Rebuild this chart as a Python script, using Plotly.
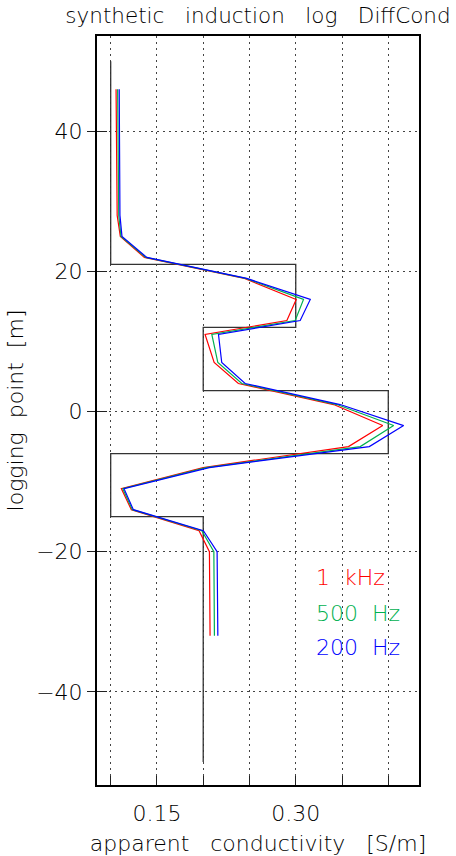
import plotly.graph_objects as go

# ---- data ----
layer_top = [50, 21, 12, 3, -6, -15]
layer_bottom = [21, 12, 3, -6, -15, -50]
layer_sigma = [0.10, 0.30, 0.20, 0.40, 0.10, 0.20]

depth = [46, 28, 25, 22, 19, 16, 13, 11, 7, 4, 1, -2, -5, -8, -11, -14, -17, -20, -32]
sigma_1khz = [0.1058, 0.1070, 0.1104, 0.1364, 0.2446, 0.3005, 0.2904, 0.2020, 0.2118, 0.2380,
              0.3410, 0.3940, 0.3570, 0.2000, 0.1115, 0.1223, 0.1955, 0.2067, 0.2074]
sigma_500hz = [0.1075, 0.1087, 0.1111, 0.1379, 0.2458, 0.3084, 0.2994, 0.2093, 0.2158, 0.2417,
               0.3445, 0.4058, 0.3697, 0.2030, 0.1130, 0.1234, 0.1985, 0.2115, 0.2121]
sigma_200hz = [0.1092, 0.1100, 0.1122, 0.1390, 0.2470, 0.3157, 0.3048, 0.2165, 0.2200, 0.2453,
               0.3480, 0.4166, 0.3795, 0.2065, 0.1144, 0.1245, 0.2002, 0.2150, 0.2158]

series_names = ["1\u00a0 kHz", "500\u00a0 Hz", "200\u00a0 Hz"]
series_colors = ["#ff0000", "#00b050", "#0000ff"]

x_tickvals = [0.10, 0.15, 0.20, 0.25, 0.30, 0.35, 0.40]
x_ticktext = ["", "0.15", "", "", "0.30", "", ""]
y_tickvals = [40, 20, 0, -20, -40]

# ---- figure ----
FONT = "DejaVu Sans"
TXT = "#000000"
W = 300
SP = "\u00a0\u00a0 "
SP2 = "\u00a0 "

model_x, model_y = [], []
for s, t, b in zip(layer_sigma, layer_top, layer_bottom):
    model_x += [s, s]
    model_y += [t, b]

fig = go.Figure()
fig.add_trace(go.Scatter(x=model_x, y=model_y, mode="lines",
                         line=dict(color="#333333", width=1.3), showlegend=False, hoverinfo="skip"))
for vals, col in zip([sigma_1khz, sigma_500hz, sigma_200hz], series_colors):
    fig.add_trace(go.Scatter(x=vals, y=depth, mode="lines",
                             line=dict(color=col, width=1.2), showlegend=False))
# invisible trace for the overlay axis carrying inner ticks
fig.add_trace(go.Scatter(x=[0.2], y=[0], yaxis="y2", mode="markers",
                         marker=dict(opacity=0), showlegend=False, hoverinfo="skip"))

xr = [0.0852, 0.4332]
yr = [-53.3, 53.6]

fig.update_layout(
    width=456, height=856,
    margin=dict(l=97, r=37, t=36, b=71),
    paper_bgcolor="white", plot_bgcolor="white",
    font=dict(family=FONT, color=TXT, size=22, weight=W),
    title=dict(text="synthetic" + SP + "induction" + SP + "log" + SP + "DiffCond", x=0.5, xref="paper",
               y=1 - 15 / 856, yref="container", xanchor="center", yanchor="middle",
               font=dict(size=21.5, family=FONT, color=TXT, weight=W)),
    xaxis=dict(range=xr, tickvals=x_tickvals, ticktext=x_ticktext, automargin=False,
               ticks="inside", ticklen=9, tickcolor="#222", tickwidth=1,
               showline=True, linecolor="black", linewidth=2, mirror=True,
               showgrid=True, gridcolor="#444", gridwidth=1, griddash="2px,4px",
               zeroline=False, tickfont=dict(size=22, weight=W, color=TXT),
               title=dict(text="apparent" + SP + "conductivity" + SP + "[S/m]",
                          font=dict(size=22, weight=W, color=TXT), standoff=11),
               ticklabelstandoff=8),
    yaxis=dict(range=yr, tickvals=y_tickvals, automargin=False,
               ticks="outside", ticklen=8, tickcolor="#222", tickwidth=1,
               showline=True, linecolor="black", linewidth=2, mirror=True,
               showgrid=True, gridcolor="#444", gridwidth=1, griddash="2px,4px",
               zeroline=False, tickfont=dict(size=22, weight=W, color=TXT),
               title=dict(text="logging" + SP2 + "point" + SP2 + "[m]",
                          font=dict(size=22, weight=W, color=TXT), standoff=6)),
    yaxis2=dict(range=yr, overlaying="y", side="left", tickvals=y_tickvals, automargin=False,
                ticks="inside", ticklen=10, tickcolor="#222", tickwidth=1,
                showticklabels=False, showgrid=False, zeroline=False, showline=False),
)

ann_y = [0.2764, 0.2296, 0.183]
for name, col, yy in zip(series_names, series_colors, ann_y):
    fig.add_annotation(text=name, x=0.674, y=yy, xref="paper", yref="paper",
                       xanchor="left", yanchor="middle", showarrow=False,
                       font=dict(size=22, color=col, family=FONT, weight=W))

fig.write_html("out.html")
